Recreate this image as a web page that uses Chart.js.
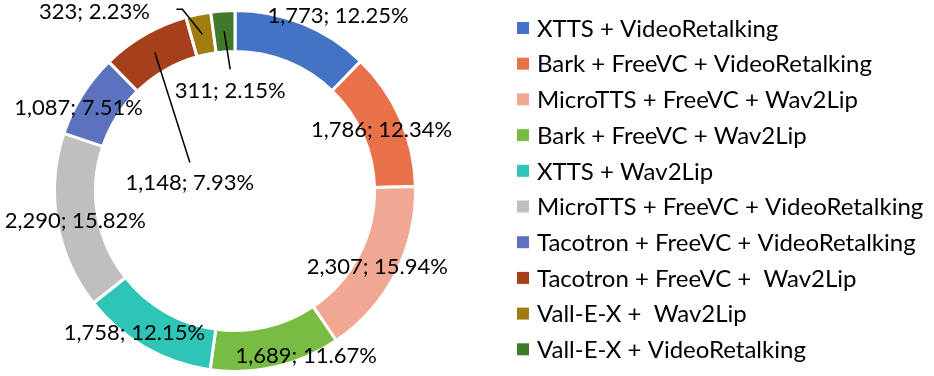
<!DOCTYPE html>
<html>
<head>
<meta charset="utf-8">
<script src="https://cdn.jsdelivr.net/npm/chart.js@4"></script>
<style>
  body { margin: 0; background: #fff; }
  #wrap { width: 934px; height: 376px; }
</style>
</head>
<body>
<div id="wrap"><canvas id="donut" width="934" height="376"></canvas></div>
<script>
const categories = [
  "XTTS + VideoRetalking",
  "Bark + FreeVC + VideoRetalking",
  "MicroTTS + FreeVC + Wav2Lip",
  "Bark + FreeVC + Wav2Lip",
  "XTTS + Wav2Lip",
  "MicroTTS + FreeVC + VideoRetalking",
  "Tacotron + FreeVC + VideoRetalking",
  "Tacotron + FreeVC +  Wav2Lip",
  "Vall-E-X +  Wav2Lip",
  "Vall-E-X + VideoRetalking"
];
const counts = [1773, 1786, 2307, 1689, 1758, 2290, 1087, 1148, 323, 311];

const colors = ["#4472C4", "#E9714A", "#F0A893", "#78BC43", "#2EC4B6",
                "#BFBFBF", "#5B73BF", "#A63F1C", "#A07D10", "#40792B"];

// label offsets from each slice centroid, and leader line end points (relative to label)
const labelShift = [[43, -27], [0, 3], [0, 3], [35, 9], [-21, 3], [-2, 3], [-21, 2], [35, 130], [-108, -22], [6, 60]];
const leaders = { 7: [[0, -20]], 8: [[88, -3], [82, -3]], 9: [[0, -22]] };

const LABEL_FONT = "22px Lato";
const LEGEND_FONT = "24px Lato";

const labelPlugin = {
  id: "sliceLabels",
  afterDatasetsDraw(chart) {
    const ctx = chart.ctx;
    const meta = chart.getDatasetMeta(0);
    const total = counts.reduce((a, b) => a + b, 0);
    ctx.save();
    ctx.font = LABEL_FONT;
    ctx.fillStyle = "#000";
    ctx.textAlign = "center";
    ctx.textBaseline = "middle";
    meta.data.forEach((arc, i) => {
      const c = arc.tooltipPosition();
      const x = c.x + labelShift[i][0];
      const y = c.y + labelShift[i][1];
      if (leaders[i]) {
        ctx.strokeStyle = "#000";
        ctx.lineWidth = 1.5;
        ctx.beginPath();
        ctx.moveTo(c.x, c.y);
        leaders[i].forEach(p => ctx.lineTo(x + p[0], y + p[1]));
        ctx.stroke();
      }
      const pct = (counts[i] / total * 100).toFixed(2);
      ctx.fillText(counts[i].toLocaleString("en-US") + "; " + pct + "%", x, y);
    });
    ctx.restore();
  }
};

const legendPlugin = {
  id: "sideLegend",
  afterDraw(chart) {
    const ctx = chart.ctx;
    ctx.save();
    ctx.font = LEGEND_FONT;
    ctx.textBaseline = "middle";
    ctx.textAlign = "left";
    chart.data.labels.forEach((lab, i) => {
      const y = 28 + i * 35.7;
      ctx.fillStyle = colors[i];
      ctx.fillRect(517, y - 6, 12, 12);
      ctx.fillStyle = "#000";
      ctx.fillText(lab, 537, y + 1);
    });
    ctx.restore();
  }
};

const ctx = document.getElementById("donut").getContext("2d");
new Chart(ctx, {
  type: "doughnut",
  data: {
    labels: categories,
    datasets: [{
      data: counts,
      backgroundColor: colors,
      borderColor: "#fff",
      borderWidth: 3
    }]
  },
  options: {
    responsive: false,
    animation: false,
    cutout: "77.3%",
    layout: { padding: { left: 53, right: 517, top: 9, bottom: 3 } },
    plugins: {
      legend: { display: false },
      tooltip: { enabled: false }
    }
  },
  plugins: [labelPlugin, legendPlugin]
});
</script>
</body>
</html>
